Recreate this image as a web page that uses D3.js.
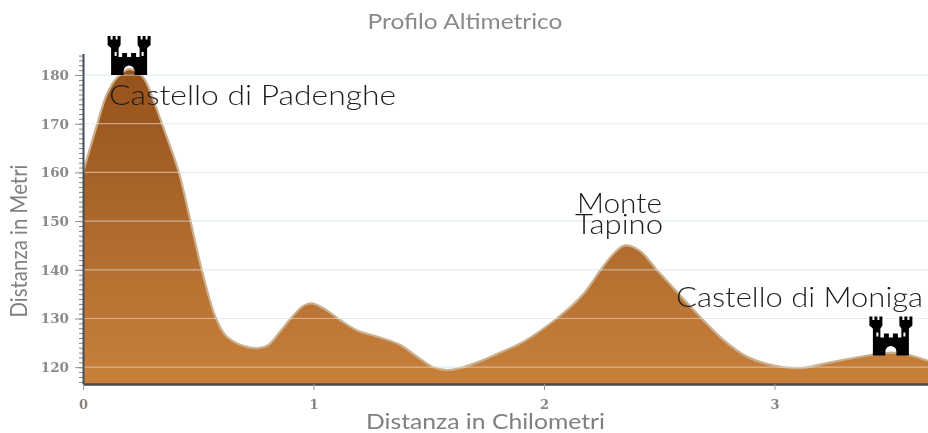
<!DOCTYPE html>
<html>
<head>
<meta charset="utf-8">
<script src="https://cdn.jsdelivr.net/npm/d3@7"></script>
<style>
html,body{margin:0;padding:0;background:#fff;}
svg{display:block;filter:blur(0.45px);}
.lab{font-family:"Lato",sans-serif;}
</style>
</head>
<body>
<svg id="c" width="928" height="433"></svg>
<script>
const distanceKm = [0,0.059,0.103,0.146,0.2,0.26,0.304,0.341,0.413,0.464,0.515,0.577,0.623,0.694,0.76,0.803,0.855,0.905,0.956,0.992,1.043,1.115,1.187,1.274,1.375,1.448,1.52,1.578,1.636,1.722,1.809,1.91,2.055,2.17,2.246,2.3,2.351,2.416,2.489,2.59,2.684,2.778,2.879,2.993,3.115,3.232,3.419,3.505,3.592,3.666];
const altitudeM = [160,169.5,176,179.4,181.2,179.6,175,170.2,160.5,150.5,140,130,126.3,124.4,123.9,124.5,127.3,130.2,132.6,133.1,132.1,129.7,127.6,126.3,124.6,122.2,120,119.4,119.8,121.2,123,125.2,130,135,140,143.2,145,143.9,140,134.8,130,125.6,122.2,120.4,119.8,120.9,122.5,123,122.4,121.3];
const yTicks = [120,130,140,150,160,170,180];
const xTicks = [0,1,2,3];
const castleKm = [0.2,3.505];
const castleAlt = [180,122.4];
const labelTexts = ["Castello di Padenghe","Monte","Tapino","Castello di Moniga"];
const labelKm = [0.113,2.143,2.135,2.573];
const labelAlt = [173.9,151.7,147.4,132.4];
const labelWidths = [287,85,88,247];
const titleText = "Profilo Altimetrico";
const xTitle = "Distanza in Chilometri";
const yTitle = "Distanza in Metri";

const svg = d3.select("#c");
const x = d3.scaleLinear().domain([0,3.666]).range([83,928]);
const y = d3.scaleLinear().domain([116.55,184.4]).range([384,53.6]);

const defs = svg.append("defs");
const grad = defs.append("linearGradient").attr("id","g").attr("gradientUnits","userSpaceOnUse")
  .attr("x1",0).attr("x2",0).attr("y1",y(181)).attr("y2",y(116.55));
grad.append("stop").attr("offset",0).attr("stop-color","#95521b");
grad.append("stop").attr("offset",1).attr("stop-color","#c8803c");
defs.append("clipPath").attr("id","clip").append("rect")
  .attr("x",83).attr("y",40).attr("width",845).attr("height",344);

const pts = distanceKm.map((d,i)=>[d,altitudeM[i]]);
const curve = d3.curveCatmullRom.alpha(0.5);
const area = d3.area().x(d=>x(d[0])).y1(d=>y(d[1])).y0(y(116.55)).curve(curve);
const line = d3.line().x(d=>x(d[0])).y(d=>y(d[1])).curve(curve);

const plot = svg.append("g").attr("clip-path","url(#clip)");
// grid under the profile (pale blue on white)
plot.append("g").selectAll("line").data(yTicks).join("line")
  .attr("x1",83).attr("x2",928).attr("y1",d=>y(d)).attr("y2",d=>y(d))
  .attr("stroke","#d6e8f3").attr("stroke-width",1);
plot.append("path").datum(pts).attr("d",area).attr("fill","url(#g)");
plot.append("path").datum(pts).attr("d",line).attr("fill","none")
  .attr("stroke","#c9b08e").attr("stroke-width",2.2);
// grid over the profile
plot.append("g").selectAll("line").data(yTicks).join("line")
  .attr("x1",83).attr("x2",928).attr("y1",d=>y(d)).attr("y2",d=>y(d))
  .attr("stroke","#eef3f6").attr("stroke-opacity",0.5).attr("stroke-width",1.2);

// axes
const yAxisMinor = d3.axisLeft(y).tickValues(d3.range(117,185)).tickSize(4).tickSizeOuter(0).tickFormat("");
const gm = svg.append("g").attr("transform","translate(83,0)").call(yAxisMinor);
gm.select(".domain").remove();
gm.selectAll("line").attr("stroke","#7b8085");

const yAxis = d3.axisLeft(y).tickValues(yTicks).tickSize(8).tickSizeOuter(0).tickPadding(6);
const gy = svg.append("g").attr("transform","translate(83,0)").call(yAxis);
gy.select(".domain").attr("stroke","#454c55").attr("stroke-width",2);
gy.selectAll("line").attr("stroke","#8b9096");
gy.selectAll("text").attr("font-family","'DejaVu Serif',serif").attr("font-weight","bold")
  .attr("font-size",13.5).attr("fill","#8a8a8e");

const xAxis = d3.axisBottom(x).tickValues(xTicks).tickSize(6).tickSizeOuter(0).tickPadding(10).tickFormat(d3.format("d"));
const gx = svg.append("g").attr("transform","translate(0,384)").call(xAxis);
gx.select(".domain").attr("stroke","#4a4a4a").attr("stroke-width",2.4);
gx.selectAll("line").attr("stroke","#999");
gx.selectAll("text").attr("font-family","'DejaVu Serif',serif").attr("font-weight","bold")
  .attr("font-size",13).attr("fill","#8a8480");

// castles
const castleIcon = "M-21.5-39H-18.5V-35.5H-16.5V-39H-13.5V-35.5H-11.5V-39H-8.5V-30L-10.5-27V-18H-7V-22H-2V-18H2V-22H7V-18H10.5V-27L8.5-30V-39H11.5V-35.5H13.5V-39H16.5V-35.5H18.5V-39H21.5V-30L18-27V0H-18V-27L-21.5-30Z"
 + "M-5.5 0V-4A5.5 5.5 0 0 1 5.5-4V0Z M-14.5-23V-19H-12.5V-23Z M12.5-23V-19H14.5V-23Z";
svg.append("g").selectAll("path").data(castleKm).join("path")
  .attr("d",castleIcon).attr("fill","#000").attr("fill-rule","evenodd")
  .attr("transform",(d,i)=>`translate(${x(d)},${y(castleAlt[i])})`);

// labels
svg.append("g").selectAll("text").data(labelTexts).join("text")
  .attr("class","lab").text(d=>d)
  .attr("x",(d,i)=>x(labelKm[i])).attr("y",(d,i)=>y(labelAlt[i]))
  .attr("font-size",27).attr("font-weight",300).attr("fill","#1c1c1c")
  .attr("textLength",(d,i)=>labelWidths[i]).attr("lengthAdjust","spacingAndGlyphs");

svg.append("text").attr("class","lab").text(titleText)
  .attr("x",465).attr("y",29).attr("text-anchor","middle")
  .attr("font-size",22).attr("fill","#8a8a8a").attr("textLength",195).attr("lengthAdjust","spacingAndGlyphs");
svg.append("text").attr("class","lab").text(xTitle)
  .attr("x",485.5).attr("y",428.5).attr("text-anchor","middle")
  .attr("font-size",22).attr("fill","#808080").attr("textLength",239).attr("lengthAdjust","spacingAndGlyphs");
svg.append("text").attr("class","lab").text(yTitle)
  .attr("transform","translate(27,241) rotate(-90)").attr("text-anchor","middle")
  .attr("font-size",23).attr("fill","#808080").attr("textLength",153).attr("lengthAdjust","spacingAndGlyphs");
</script>
</body>
</html>
